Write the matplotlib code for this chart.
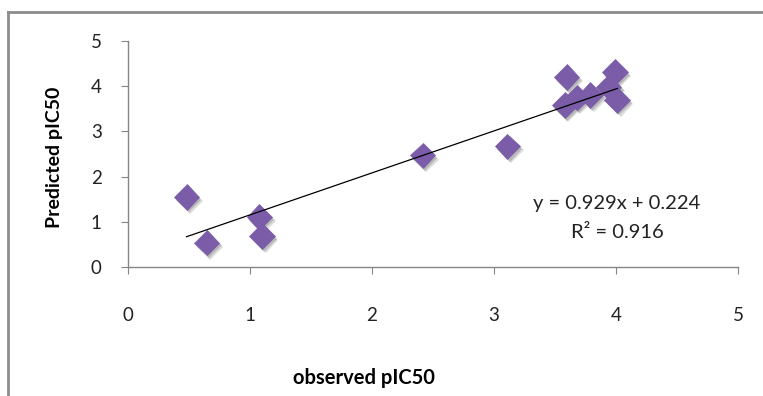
import matplotlib
matplotlib.use("Agg")
import matplotlib.pyplot as plt
import matplotlib.patheffects as pe
from matplotlib.lines import Line2D
import numpy as np

observed = [0.48, 0.645, 1.076, 1.10, 2.415, 3.11, 3.595, 3.58, 3.68, 3.79, 3.94, 3.99, 4.01]
predicted = [1.55, 0.54, 1.11, 0.68, 2.47, 2.67, 4.20, 3.58, 3.75, 3.80, 3.98, 4.31, 3.70]
slope = 0.929
intercept = 0.224
r2 = 0.916
ticks = [0, 1, 2, 3, 4, 5]

plt.rcParams['font.family'] = ['Lato', 'DejaVu Sans']

W, H = 763, 396
fig = plt.figure(figsize=(W / 100, H / 100), dpi=100)
ax = fig.add_axes([128 / W, 1 - 267 / H, (738 - 128) / W, (267 - 41) / H])

x_line = np.array([min(observed), max(observed)])
ax.plot(x_line, slope * x_line + intercept, color='black', lw=0.9, zorder=3)

shadow = [pe.SimplePatchShadow(offset=(2.5, -3), shadow_rgbFace='#777777', alpha=0.25),
          pe.SimplePatchShadow(offset=(1.5, -2), shadow_rgbFace='#666666', alpha=0.3),
          pe.Normal()]
ax.plot(observed, predicted, linestyle='none', marker='D', markersize=13,
        markerfacecolor='#7a5ca8', markeredgecolor='#7a5ca8', markeredgewidth=0.5,
        path_effects=shadow, zorder=2)

ax.set_xlim(0, 5)
ax.set_ylim(0, 5)
ax.set_xticks(ticks)
ax.set_yticks(ticks)
ax.set_xticklabels([str(t) for t in ticks])
ax.set_yticklabels([str(t) for t in ticks])
for s in ['top', 'right']:
    ax.spines[s].set_visible(False)
for s in ['left', 'bottom']:
    ax.spines[s].set_color('#868686')
    ax.spines[s].set_linewidth(1.0)
ax.tick_params(axis='x', direction='out', length=5, color='#868686', pad=24, labelsize=13.5, labelcolor='#222222')
ax.tick_params(axis='y', direction='out', length=5, color='#868686', pad=14, labelsize=13.5, labelcolor='#222222')

ax.text(617 / W, 1 - 203 / H, 'y = 0.929x + 0.224', transform=fig.transFigure, fontsize=14.5,
        ha='center', va='center', color='#222222')
ax.text(617 / W, 1 - 232 / H, 'R² = 0.916', transform=fig.transFigure, fontsize=14.5,
        ha='center', va='center', color='#222222')

# axis labels in figure coords
fig.text(364 / W, 1 - 378 / H, 'observed pIC50', fontsize=14.5, fontweight='bold', ha='center', va='center')
fig.text(55 / W, 1 - 157 / H, 'Predicted pIC50', fontsize=14, fontweight='bold', ha='center', va='center', rotation=90)

# outer frame
fig.add_artist(Line2D([8 / W, 8 / W], [1 - 12 / H, 0], transform=fig.transFigure, color='#8c8c8c', lw=2))
fig.add_artist(Line2D([8 / W, 1], [1 - 12 / H, 1 - 12 / H], transform=fig.transFigure, color='#8c8c8c', lw=2))

fig.savefig('out.png', dpi=100)
